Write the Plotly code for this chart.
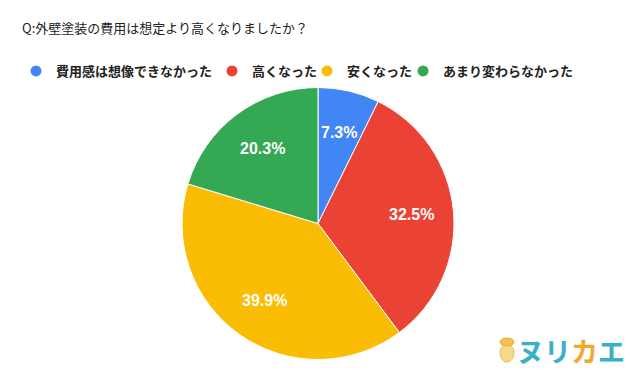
import math
import plotly.graph_objects as go

categories = ["費用感は想像できなかった", "高くなった", "安くなった", "あまり変わらなかった"]
values = [7.3, 32.5, 39.9, 20.3]
colors = ["#4285F4", "#EA4335", "#FBBC04", "#34A853"]
title_text = "Q:外壁塗装の費用は想定より高くなりましたか？"
legend_widths = [151, 50, 51, 130]

W, H = 631, 371
cx, cy, r = 318, 223.5, 136
label_r = 0.69

fig = go.Figure()
fig.add_trace(go.Pie(
    labels=categories, values=values, sort=False, direction="clockwise", rotation=0,
    marker=dict(colors=colors, line=dict(color="white", width=1)),
    textinfo="none", showlegend=False, hoverinfo="label+percent",
    domain=dict(x=[(cx - r) / W, (cx + r) / W], y=[(H - cy - r) / H, (H - cy + r) / H]),
))

# percentage labels placed at slice mid-angles (computed from the data)
total = sum(values)
cum = 0.0
for v in values:
    mid = (cum + v / 2) / total * 2 * math.pi
    cum += v
    px = cx + label_r * r * math.sin(mid)
    py = cy - label_r * r * math.cos(mid)
    fig.add_annotation(text=f"{v / total * 100:.1f}%", x=px / W, y=1 - py / H,
                       xref="paper", yref="paper", xanchor="center", yanchor="middle",
                       showarrow=False,
                       font=dict(size=16, color="white", family="Liberation Sans, Arial", weight="bold"))

for c, col, lw in zip(categories, colors, legend_widths):
    fig.add_trace(go.Scatter(x=[None], y=[None], mode="markers", name=c, legendwidth=lw,
                             marker=dict(color=col, size=11, symbol="circle")))

fig.add_annotation(text=title_text, x=20 / W, y=1 - 28 / H, xref="paper", yref="paper",
                   xanchor="left", yanchor="middle", showarrow=False,
                   font=dict(size=13, color="#222222", family="Noto Sans CJK JP"))
fig.add_annotation(text="ヌリ<span style='color:#F0A830'>カ</span>エ", x=627 / W, y=1 - 350 / H,
                   xref="paper", yref="paper", xanchor="right", yanchor="middle", showarrow=False,
                   font=dict(size=27, color="#3AAFC9", family="Noto Sans CJK JP", weight="bold"))
# frog-like mark
fig.add_shape(type="circle", xref="paper", yref="paper",
              x0=500 / W, x1=514 / W, y0=1 - 362 / H, y1=1 - 344 / H,
              fillcolor="#F7D98A", line=dict(color="#E8B94A", width=1))
fig.add_shape(type="circle", xref="paper", yref="paper",
              x0=500 / W, x1=514 / W, y0=1 - 346 / H, y1=1 - 338 / H,
              fillcolor="#F2C24E", line=dict(color="#E0A93A", width=1))

fig.update_layout(
    width=W, height=H, margin=dict(l=0, r=0, t=0, b=0),
    paper_bgcolor="white", plot_bgcolor="white",
    xaxis=dict(visible=False), yaxis=dict(visible=False),
    legend=dict(orientation="h", x=16 / W, y=1 - 71 / H, xanchor="left", yanchor="middle",
                font=dict(size=13, color="#222222", family="Noto Sans CJK JP", weight="bold"),
                itemclick=False, bgcolor="rgba(0,0,0,0)"),
)
fig.write_html("out.html")
